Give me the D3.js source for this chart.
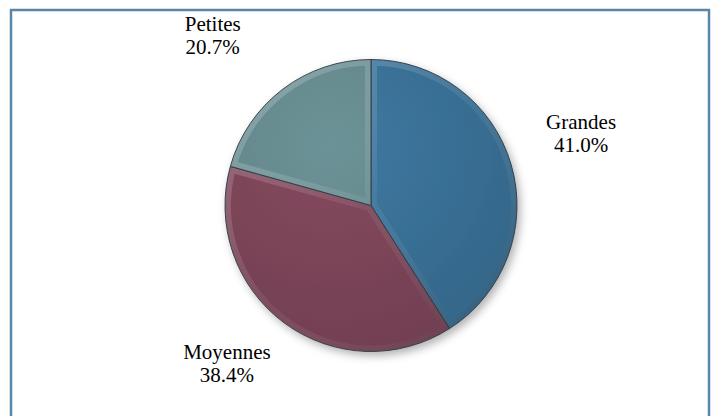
<!DOCTYPE html>
<html>
<head>
<meta charset="utf-8">
<script src="https://d3js.org/d3.v7.min.js"></script>
<style>
  body { margin: 0; background: #fff; }
  svg { display: block; }
</style>
</head>
<body>
<svg id="chart" width="715" height="416"></svg>
<script>
// chart data
var categories = ["Grandes", "Moyennes", "Petites"];
var shares = [41.0, 38.4, 20.7];
var shareLabels = ["41.0%", "38.4%", "20.7%"];

var sliceColors = ["#3b749b", "#80475b", "#678d91"];
// small nudges so the labels sit where the original put them
var labelNudge = [[-3, -7], [-12, -18], [-24, 9]];

var cx = 371, cy = 205.5, radius = 146;

var svg = d3.select("#chart");
var defs = svg.append("defs");

// frame around the chart (bottom edge falls outside the picture)
svg.append("rect")
  .attr("x", 11).attr("y", 10)
  .attr("width", 698).attr("height", 430)
  .attr("fill", "none")
  .attr("stroke", "#5a86aa")
  .attr("stroke-width", 2.5);

var shadow = defs.append("filter").attr("id", "shadow")
  .attr("x", "-20%").attr("y", "-20%").attr("width", "140%").attr("height", "140%");
shadow.append("feDropShadow")
  .attr("dx", 3).attr("dy", 4).attr("stdDeviation", 4)
  .attr("flood-color", "#000").attr("flood-opacity", 0.3);

var bevel = defs.append("linearGradient").attr("id", "bevel")
  .attr("gradientUnits", "userSpaceOnUse")
  .attr("x1", -radius).attr("y1", -radius).attr("x2", radius).attr("y2", radius);
bevel.append("stop").attr("offset", "0%").attr("stop-color", "#fff").attr("stop-opacity", 0.25);
bevel.append("stop").attr("offset", "50%").attr("stop-color", "#fff").attr("stop-opacity", 0.06);
bevel.append("stop").attr("offset", "100%").attr("stop-color", "#000").attr("stop-opacity", 0.2);

sliceColors.forEach(function(c, i) {
  var g = defs.append("radialGradient").attr("id", "fill" + i)
    .attr("gradientUnits", "userSpaceOnUse")
    .attr("cx", -40).attr("cy", -60).attr("r", radius * 1.4);
  g.append("stop").attr("offset", "0%").attr("stop-color", d3.color(c).brighter(0.12));
  g.append("stop").attr("offset", "100%").attr("stop-color", d3.color(c).darker(0.3));
});

var pie = d3.pie().sort(null).value(function(d) { return d; });
var arcs = pie(shares);

var arc = d3.arc().innerRadius(0).outerRadius(radius);
var labelArc = d3.arc().innerRadius(222).outerRadius(222);

var plot = svg.append("g").attr("transform", "translate(" + cx + "," + cy + ")");
var pieGroup = plot.append("g").attr("filter", "url(#shadow)");

arcs.forEach(function(a, i) {
  defs.append("clipPath").attr("id", "clip" + i)
    .append("path").attr("d", arc(a));
});

var slices = pieGroup.selectAll("g.slice")
  .data(arcs)
  .enter()
  .append("g")
  .attr("class", "slice");

slices.append("path")
  .attr("d", arc)
  .attr("fill", function(d, i) { return "url(#fill" + i + ")"; });

// soft bevel along the edges of each slice
slices.append("path")
  .attr("d", arc)
  .attr("fill", "none")
  .attr("stroke", "url(#bevel)")
  .attr("stroke-width", 12)
  .attr("clip-path", function(d, i) { return "url(#clip" + i + ")"; });

slices.append("path")
  .attr("d", arc)
  .attr("fill", "none")
  .attr("stroke", "#2c3a44")
  .attr("stroke-width", 0.9)
  .attr("stroke-linejoin", "round");

var labels = plot.selectAll("text.lbl")
  .data(arcs)
  .enter()
  .append("text")
  .attr("class", "lbl")
  .style("font-family", "'Liberation Serif', 'Times New Roman', serif")
  .style("font-size", "21px")
  .attr("fill", "#000")
  .attr("text-anchor", "middle")
  .attr("transform", function(d, i) {
    var p = labelArc.centroid(d);
    return "translate(" + (p[0] + labelNudge[i][0]) + "," + (p[1] + labelNudge[i][1]) + ")";
  });

labels.append("tspan")
  .attr("x", 0).attr("y", -7)
  .text(function(d, i) { return categories[i]; });
labels.append("tspan")
  .attr("x", 0).attr("y", 16)
  .text(function(d, i) { return shareLabels[i]; });
</script>
</body>
</html>
